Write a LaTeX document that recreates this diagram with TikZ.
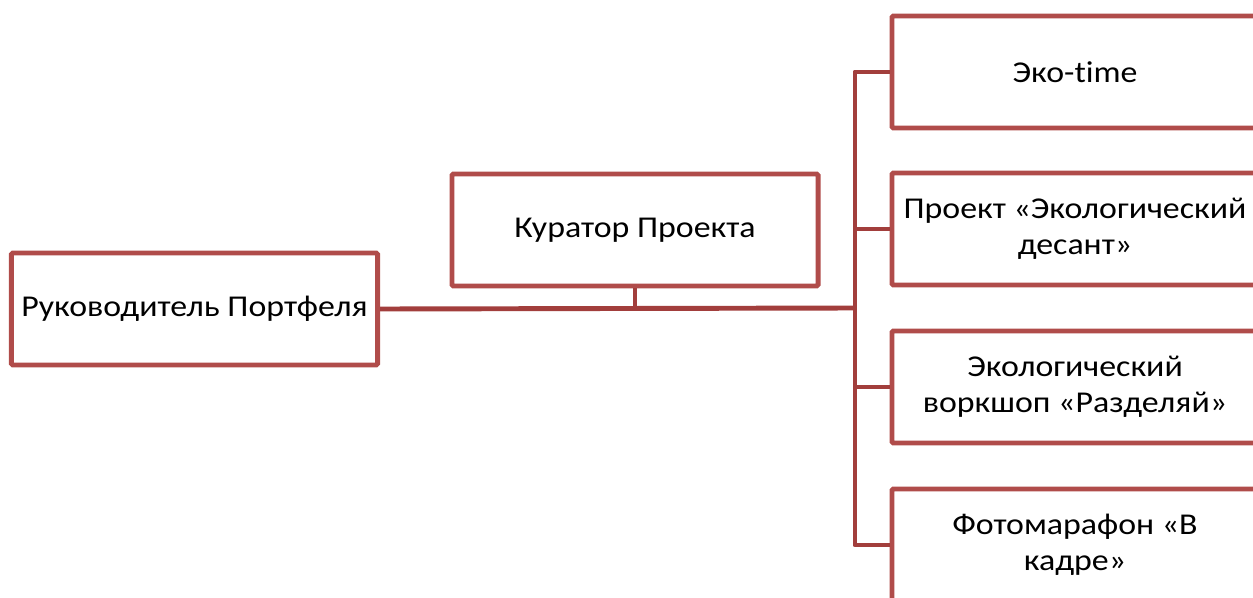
\documentclass[tikz,border=0pt]{standalone}
\usepackage{fontspec}
\setmainfont{Carlito}[FakeStretch=1.12, Ligatures=NoCommon]
\definecolor{boxred}{RGB}{176,76,74}
\definecolor{linered}{RGB}{162,62,60}
\usetikzlibrary{positioning}

\begin{document}
\begin{tikzpicture}[x=0.025cm, y=-0.025cm,
        unit/.style={rectangle, rounded corners=1pt, draw=boxred, line width=3.5pt,
                     fill=white, minimum width=9.15cm, minimum height=2.8cm,
                     inner sep=0pt, align=center,
                     font=\fontsize{21.5}{25.6}\selectfont},
        link/.style={draw=linered, line width=3.5pt, line join=round}
      ]
        \useasboundingbox (0,0) rectangle (1253,597);

        \node[unit] (ruk)    at (194.5,309) {Руководитель Портфеля};
        \node[unit] (kur)    at (635,230)   {Куратор Проекта};
        \node[unit] (eko)    at (1075,72)   {Эко-time};
        \node[unit] (desant) at (1075,229)  {Проект «Экологический\\десант»};
        \node[unit] (work)   at (1075,387)  {Экологический\\воркшоп «Разделяй»};
        \node[unit] (foto)   at (1075,545)  {Фотомарафон «В\\кадре»};

        \coordinate (bus) at (855,308);

        \draw[link] (ruk.east) -- (bus);
        \draw[link] (kur.south) -- (kur.south |- bus);
        \foreach \n in {eko,desant,work,foto}
          \draw[link] (bus) |- (\n.west);
      \end{tikzpicture}
\end{document}
